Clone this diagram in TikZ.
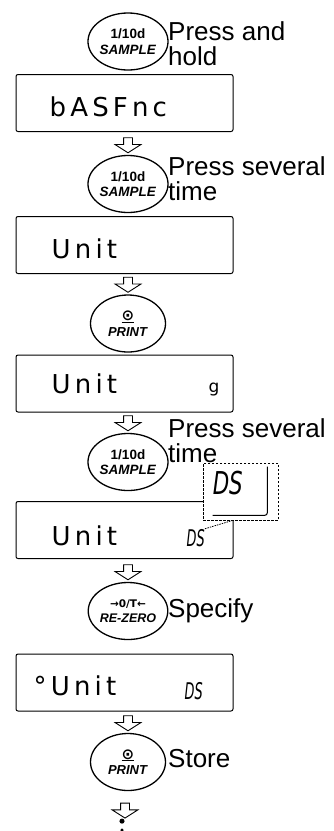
\documentclass[tikz,border=0pt]{standalone}
\usepackage{fontspec}
\usepackage{graphicx}
\setmainfont{Liberation Sans}
\newfontfamily\segfont[LetterSpace=16]{DejaVu Sans}
\newfontfamily\symfont{DejaVu Sans}
\usetikzlibrary{positioning,shapes.geometric,shapes.arrows,calc}

\begin{document}
\begin{tikzpicture}[x=1pt,y=1pt,
    key/.style={ellipse,draw,line width=1.3pt,minimum width=75pt,minimum height=57pt,inner sep=0pt,align=center,font=\fontsize{13.5}{13.5}\selectfont\bfseries},
    display/.style={rectangle,draw,line width=1pt,rounded corners=2pt,minimum width=217pt,minimum height=57pt},
    seg/.style={inner sep=0pt,anchor=base west,font=\fontsize{26}{26}\segfont},
    unitmark/.style={inner sep=0pt,anchor=base west,font=\fontsize{23}{23}\symfont\itshape},
    hint/.style={inner sep=0pt,anchor=base west,font=\fontsize{26}{26}\selectfont},
    down/.style={single arrow,draw,line width=0.9pt,rotate=-90,minimum height=15pt,inner sep=4pt,single arrow head extend=8.5pt,single arrow tip angle=115}]

                \useasboundingbox (0,0) rectangle (333,-831);

                % keys
                \node[key] (k1) at (128,-41.5) {1/10d\\[2pt]\textit{SAMPLE}};
                \node[key] (k2) at (128,-184) {1/10d\\[2pt]\textit{SAMPLE}};
                \node[key] (k3) at (128,-323.5) {{\symfont\fontsize{15}{15}\selectfont\underline{⊙}}\\[2pt]{\fontsize{13}{13}\selectfont\textit{PRINT}}};
                \node[key] (k4) at (128,-462) {1/10d\\[2pt]\textit{SAMPLE}};
                \node[key] (k5) at (128,-611) {{\symfont\fontsize{10.5}{10.5}\selectfont →0/T←}\\[1pt]{\fontsize{12.5}{12.5}\selectfont\textit{RE-ZERO}}};
                \node[key] (k6) at (128,-762) {{\symfont\fontsize{15}{15}\selectfont\underline{⊙}}\\[2pt]{\fontsize{13}{13}\selectfont\textit{PRINT}}};

                % displays
                \node[display] (d1) at (124.5,-103) {};
                \node[display] (d2) at (124.5,-245) {};
                \node[display] (d3) at (124.5,-383.5) {};
                \node[display] (d4) at (124.5,-530) {};
                \node[display] (d5) at (124.5,-682.5) {};

                \node[seg] (t1) at ([xshift=34,yshift=-13]d1.west) {bASFnc};
                \node[seg] (t2) at ([xshift=36,yshift=-13]d2.west) {Unit};
                \node[seg] (t3) at ([xshift=36,yshift=-10]d3.west) {Unit};
                \node[seg,font=\fontsize{17}{17}\segfont] (g3) at ([xshift=193,yshift=-9]d3.west) {g};
                \node[seg] (t4) at ([xshift=36,yshift=-15]d4.west) {Unit};
                \node[unitmark] (u4) at ([xshift=171,yshift=-16]d4.west) {\scalebox{0.56}[1]{DS}};
                \node[seg] (t5) at ([xshift=18,yshift=-13]d5.west) {°Unit};
                \node[unitmark] (u5) at ([xshift=169,yshift=-17]d5.west) {\scalebox{0.56}[1]{DS}};

                % close-up of the unit
                \node[draw,line width=0.9pt,dash pattern=on 2.5pt off 1.5pt,fill=white,minimum width=75pt,minimum height=57pt,inner sep=0pt] (zoom) at (240.5,-491.5) {};
                \draw[line width=1pt,rounded corners=3pt] ([xshift=-11,yshift=-4]zoom.north east) |- ([xshift=10,yshift=5]zoom.south west);
                \node[unitmark,font=\fontsize{31.5}{31.5}\symfont\itshape] (u4big) at ([xshift=10,yshift=-32]zoom.north west) {\scalebox{0.68}[1]{DS}};
                \draw[line width=0.8pt,dash pattern=on 1.5pt off 1pt] (u4.north east) -- ([xshift=-8]zoom.south);

                % arrows
                \node[down] (a1) at ($(k2.north)+(0,11)$) {};
                \node[down] (a2) at ($(k3.north)+(0,11)$) {};
                \node[down] (a3) at ($(k4.north)+(0,11)$) {};
                \node[down] (a4) at ($(k5.north)+(0,11)$) {};
                \node[down] (a5) at ($(k6.north)+(0,11)$) {};
                \node[down] (a6) at ($(k6.south)+(-3,-18)$) {};
                \node[circle,fill,inner sep=1.8pt] (p1) at ($(a6.center)+(-3,-12)$) {};
                \node[circle,fill,inner sep=1.2pt] (p2) at ($(p1)+(0,-9)$) {};

                % hints
                \node[hint] (h1) at (168,-40) {Press and};
                \node[hint] (h1b) at (168,-65) {hold};
                \node[hint] (h2) at (168,-175) {Press several};
                \node[hint] (h2b) at (168,-200) {time};
                \node[hint] (h4) at (168,-437) {Press several};
                \node[hint] (h4b) at (168,-462) {time};
                \node[hint] (h5) at (168,-617) {Specify};
                \node[hint] (h6) at (168,-767) {Store};

            \end{tikzpicture}
\end{document}
